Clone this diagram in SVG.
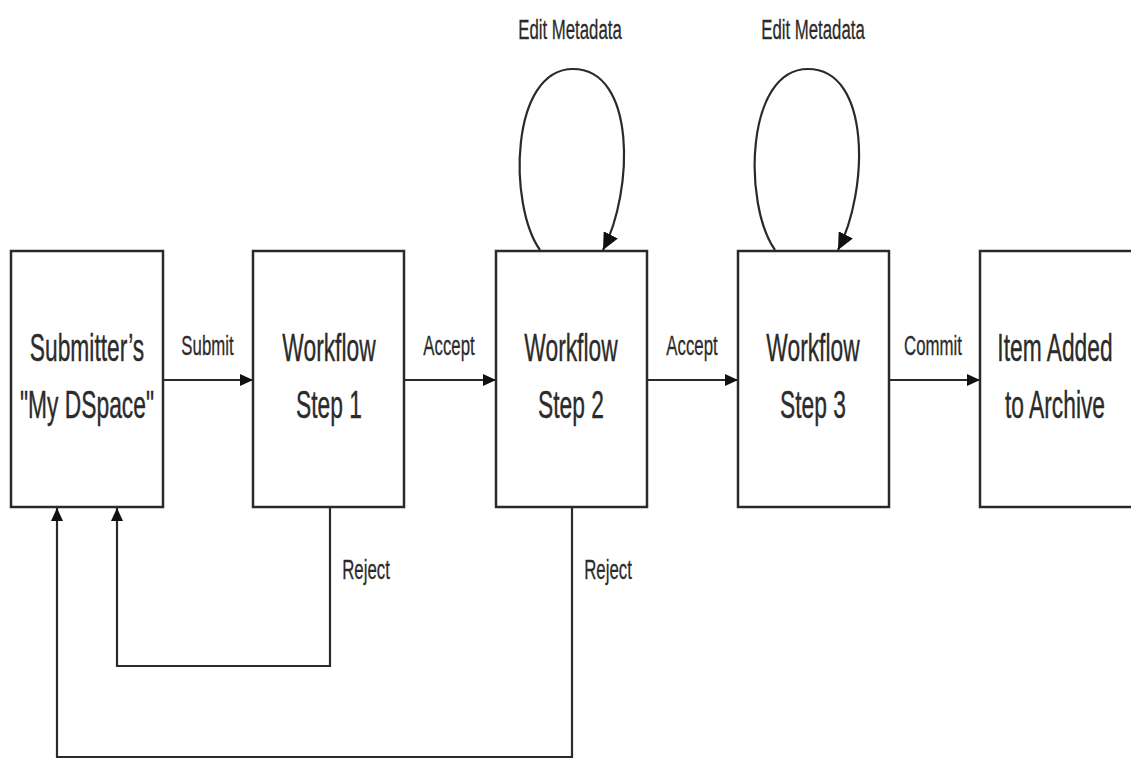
<svg xmlns="http://www.w3.org/2000/svg" width="1131" height="761" viewBox="0 0 1131 761">
  <style>
    .box { fill: #ffffff; stroke: #2a2a2a; stroke-width: 2.5; }
    .wire { fill: none; stroke: #2a2a2a; stroke-width: 2.2; }
    .big { font-family: "Liberation Sans", Arial, sans-serif; font-size: 38px; fill: #2b2b2b; stroke: #2b2b2b; stroke-width: 0.4; text-anchor: middle; }
    .lbl { font-family: "Liberation Sans", Arial, sans-serif; font-size: 28px; fill: #2b2b2b; stroke: #2b2b2b; stroke-width: 0.3; text-anchor: middle; }
  </style>
  <defs>
    <marker id="arrow" markerUnits="userSpaceOnUse" markerWidth="14" markerHeight="12" refX="13" refY="6" orient="auto">
      <path d="M0,0 L13,6 L0,12 z" fill="#111111"/>
    </marker>
    <marker id="arrowBig" markerUnits="userSpaceOnUse" markerWidth="18" markerHeight="16" refX="17" refY="8" orient="auto">
      <path d="M0,0 L17,8 L0,16 z" fill="#111111"/>
    </marker>
  </defs>

  <rect width="1131" height="761" fill="#ffffff"/>

  <!-- connectors -->
  <g id="connectors">
    <path class="wire" d="M163,380 H253" marker-end="url(#arrow)"/>
    <path class="wire" d="M404,380 H496" marker-end="url(#arrow)"/>
    <path class="wire" d="M647,380 H738" marker-end="url(#arrow)"/>
    <path class="wire" d="M889,380 H980" marker-end="url(#arrow)"/>
    <!-- self loops -->
    <path class="wire" d="M540,250 C508,205 510,69 573,69 C636,69 634,190 603,250" marker-end="url(#arrowBig)"/>
    <path class="wire" d="M775,250 C743,205 745,69 808,69 C871,69 869,190 838,250" marker-end="url(#arrowBig)"/>
    <!-- reject paths -->
    <path class="wire" d="M330,507 V666 H117 V508" marker-end="url(#arrow)"/>
    <path class="wire" d="M572,507 V757 H57 V508" marker-end="url(#arrow)"/>

    <text class="lbl" transform="translate(207.5,355) scale(0.6,1)">Submit</text>
    <text class="lbl" transform="translate(449,355) scale(0.6,1)">Accept</text>
    <text class="lbl" transform="translate(692,355) scale(0.6,1)">Accept</text>
    <text class="lbl" transform="translate(933,355) scale(0.6,1)">Commit</text>
    <text class="lbl" transform="translate(570,39) scale(0.6,1)">Edit Metadata</text>
    <text class="lbl" transform="translate(813,39) scale(0.6,1)">Edit Metadata</text>
    <text class="lbl" transform="translate(366,579) scale(0.6,1)">Reject</text>
    <text class="lbl" transform="translate(608,579) scale(0.6,1)">Reject</text>
  </g>

  <g id="submitter">
    <rect class="box" x="11" y="251" width="152" height="256"/>
    <text class="big" transform="translate(87,361) scale(0.6,1)">Submitter’s</text>
    <text class="big" transform="translate(87,418) scale(0.6,1)">"My DSpace"</text>
  </g>

  <g id="step1">
    <rect class="box" x="253" y="251" width="151" height="256"/>
    <text class="big" transform="translate(329,361) scale(0.6,1)">Workflow</text>
    <text class="big" transform="translate(329,418) scale(0.6,1)">Step 1</text>
  </g>

  <g id="step2">
    <rect class="box" x="496" y="251" width="151" height="256"/>
    <text class="big" transform="translate(571,361) scale(0.6,1)">Workflow</text>
    <text class="big" transform="translate(571,418) scale(0.6,1)">Step 2</text>
  </g>

  <g id="step3">
    <rect class="box" x="738" y="251" width="151" height="256"/>
    <text class="big" transform="translate(813,361) scale(0.6,1)">Workflow</text>
    <text class="big" transform="translate(813,418) scale(0.6,1)">Step 3</text>
  </g>

  <g id="archive">
    <rect class="box" x="980" y="251" width="155" height="256"/>
    <text class="big" transform="translate(1055,361) scale(0.6,1)">Item Added</text>
    <text class="big" transform="translate(1055,418) scale(0.6,1)">to Archive</text>
  </g>
</svg>
